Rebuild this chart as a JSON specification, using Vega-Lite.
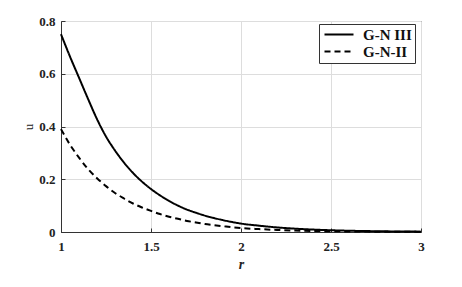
{
  "$schema": "https://vega.github.io/schema/vega-lite/v6.json",
  "width": 360,
  "height": 211,
  "autosize": {"type": "none"},
  "padding": {"left": 61, "top": 21, "right": 41, "bottom": 55},
  "background": "white",
  "config": {
    "view": {"stroke": "#333333", "strokeWidth": 1},
    "font": "Liberation Serif",
    "axis": {
      "labelFont": "Liberation Serif",
      "labelFontWeight": "bold",
      "labelFontSize": 13,
      "labelColor": "#222222",
      "gridColor": "#dddddd",
      "gridWidth": 1,
      "domainColor": "#333333",
      "tickColor": "#333333",
      "titleFont": "Liberation Serif",
      "titleColor": "#222222"
    }
  },
  "data": {
    "values": [
      {"r": 1.00, "u": 0.750, "s": "G-N III"},
      {"r": 1.05, "u": 0.665, "s": "G-N III"},
      {"r": 1.10, "u": 0.585, "s": "G-N III"},
      {"r": 1.15, "u": 0.505, "s": "G-N III"},
      {"r": 1.20, "u": 0.428, "s": "G-N III"},
      {"r": 1.25, "u": 0.362, "s": "G-N III"},
      {"r": 1.30, "u": 0.309, "s": "G-N III"},
      {"r": 1.35, "u": 0.263, "s": "G-N III"},
      {"r": 1.40, "u": 0.224, "s": "G-N III"},
      {"r": 1.45, "u": 0.191, "s": "G-N III"},
      {"r": 1.50, "u": 0.163, "s": "G-N III"},
      {"r": 1.55, "u": 0.139, "s": "G-N III"},
      {"r": 1.60, "u": 0.118, "s": "G-N III"},
      {"r": 1.65, "u": 0.100, "s": "G-N III"},
      {"r": 1.70, "u": 0.085, "s": "G-N III"},
      {"r": 1.75, "u": 0.073, "s": "G-N III"},
      {"r": 1.80, "u": 0.062, "s": "G-N III"},
      {"r": 1.85, "u": 0.053, "s": "G-N III"},
      {"r": 1.90, "u": 0.045, "s": "G-N III"},
      {"r": 1.95, "u": 0.038, "s": "G-N III"},
      {"r": 2.00, "u": 0.032, "s": "G-N III"},
      {"r": 2.10, "u": 0.024, "s": "G-N III"},
      {"r": 2.20, "u": 0.0174, "s": "G-N III"},
      {"r": 2.30, "u": 0.0126, "s": "G-N III"},
      {"r": 2.40, "u": 0.0092, "s": "G-N III"},
      {"r": 2.50, "u": 0.0067, "s": "G-N III"},
      {"r": 2.60, "u": 0.0048, "s": "G-N III"},
      {"r": 2.70, "u": 0.0035, "s": "G-N III"},
      {"r": 2.80, "u": 0.0025, "s": "G-N III"},
      {"r": 2.90, "u": 0.0018, "s": "G-N III"},
      {"r": 3.00, "u": 0.0013, "s": "G-N III"},
      {"r": 1.00, "u": 0.390, "s": "G-N-II"},
      {"r": 1.05, "u": 0.331, "s": "G-N-II"},
      {"r": 1.10, "u": 0.282, "s": "G-N-II"},
      {"r": 1.15, "u": 0.239, "s": "G-N-II"},
      {"r": 1.20, "u": 0.204, "s": "G-N-II"},
      {"r": 1.25, "u": 0.174, "s": "G-N-II"},
      {"r": 1.30, "u": 0.148, "s": "G-N-II"},
      {"r": 1.35, "u": 0.127, "s": "G-N-II"},
      {"r": 1.40, "u": 0.108, "s": "G-N-II"},
      {"r": 1.45, "u": 0.093, "s": "G-N-II"},
      {"r": 1.50, "u": 0.080, "s": "G-N-II"},
      {"r": 1.55, "u": 0.068, "s": "G-N-II"},
      {"r": 1.60, "u": 0.058, "s": "G-N-II"},
      {"r": 1.65, "u": 0.050, "s": "G-N-II"},
      {"r": 1.70, "u": 0.042, "s": "G-N-II"},
      {"r": 1.75, "u": 0.036, "s": "G-N-II"},
      {"r": 1.80, "u": 0.030, "s": "G-N-II"},
      {"r": 1.85, "u": 0.026, "s": "G-N-II"},
      {"r": 1.90, "u": 0.022, "s": "G-N-II"},
      {"r": 1.95, "u": 0.018, "s": "G-N-II"},
      {"r": 2.00, "u": 0.015, "s": "G-N-II"},
      {"r": 2.10, "u": 0.011, "s": "G-N-II"},
      {"r": 2.20, "u": 0.0078, "s": "G-N-II"},
      {"r": 2.30, "u": 0.0056, "s": "G-N-II"},
      {"r": 2.40, "u": 0.0040, "s": "G-N-II"},
      {"r": 2.50, "u": 0.0029, "s": "G-N-II"},
      {"r": 2.60, "u": 0.0020, "s": "G-N-II"},
      {"r": 2.70, "u": 0.0015, "s": "G-N-II"},
      {"r": 2.80, "u": 0.0010, "s": "G-N-II"},
      {"r": 2.90, "u": 0.0008, "s": "G-N-II"},
      {"r": 3.00, "u": 0.0006, "s": "G-N-II"}
    ]
  },
  "mark": {"type": "line", "color": "black", "strokeWidth": 2, "interpolate": "monotone"},
  "encoding": {
    "x": {
      "field": "r",
      "type": "quantitative",
      "scale": {"domain": [1, 3], "nice": false, "zero": false},
      "axis": {
        "values": [1, 1.5, 2, 2.5, 3],
        "labelExpr": "format(datum.value, '~g')",
        "title": "r",
        "titleFontStyle": "italic",
        "titleFontWeight": "bold",
        "titleFontSize": 14,
        "titlePadding": 4,
        "tickSize": -4,
        "labelPadding": 12,
        "labelFlush": false
      }
    },
    "y": {
      "field": "u",
      "type": "quantitative",
      "scale": {"domain": [0, 0.8], "nice": false},
      "axis": {
        "values": [0, 0.2, 0.4, 0.6, 0.8],
        "labelExpr": "format(datum.value, '~g')",
        "title": "u",
        "titleFontWeight": "normal",
        "titleFontSize": 13,
        "titlePadding": 3,
        "tickSize": -4,
        "labelPadding": 10,
        "labelFlush": false
      }
    },
    "strokeDash": {
      "field": "s",
      "type": "nominal",
      "scale": {"domain": ["G-N III", "G-N-II"], "range": [[1, 0], [6, 4]]},
      "legend": {
        "title": null,
        "orient": "none",
        "legendX": 258,
        "legendY": 3,
        "strokeColor": "#333333",
        "fillColor": "white",
        "padding": 3,
        "symbolType": "M-1,0H4.8",
        "symbolSize": 100,
        "symbolStrokeWidth": 2,
        "symbolStrokeColor": "black",
        "labelFont": "Liberation Serif",
        "labelFontWeight": "bold",
        "labelFontSize": 15,
        "labelColor": "#111111",
        "labelOffset": 26,
        "rowPadding": 1
      }
    }
  }
}
